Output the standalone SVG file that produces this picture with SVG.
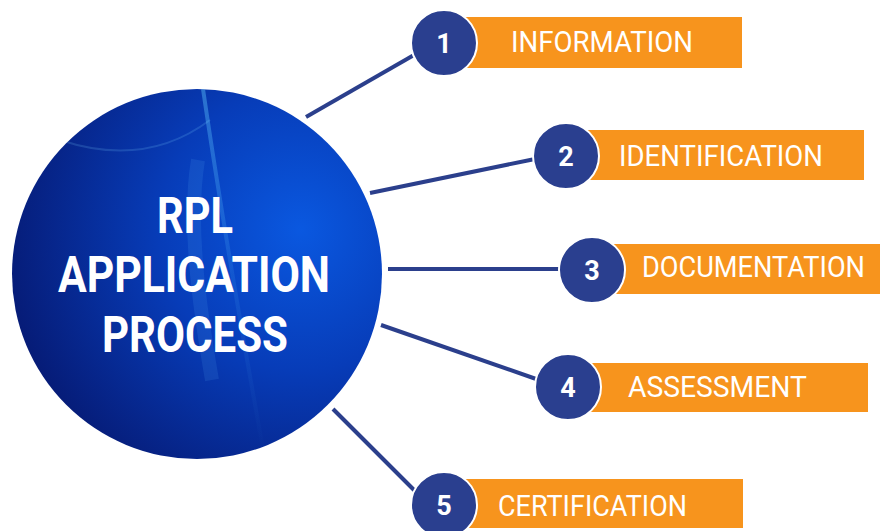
<svg xmlns="http://www.w3.org/2000/svg" width="880" height="531" viewBox="0 0 880 531">
<defs>
<radialGradient id="bg" cx="0.78" cy="0.38" r="0.85">
<stop offset="0" stop-color="#0a58e0"/>
<stop offset="0.45" stop-color="#073cb8"/>
<stop offset="1" stop-color="#061870"/>
</radialGradient>
<linearGradient id="wisp" x1="0" y1="0" x2="0" y2="1">
<stop offset="0" stop-color="#5fc8ff" stop-opacity="0.7"/>
<stop offset="0.5" stop-color="#5fc8ff" stop-opacity="0.2"/>
<stop offset="1" stop-color="#5fc8ff" stop-opacity="0"/>
</linearGradient>
<clipPath id="cc"><circle cx="197" cy="274" r="185"/></clipPath>
</defs>
<style>
.bar{fill:#f7941d}
.num{fill:#2a3f8f;stroke:#ffffff;stroke-width:2}
.numt{fill:#fff;font-family:Roboto,"Liberation Sans",sans-serif;font-weight:700;font-size:27px;text-anchor:middle}
.lab{fill:#fff;font-family:Roboto,"Liberation Sans",sans-serif;font-size:29px}
.ctr{fill:#fff;font-family:Roboto,"Liberation Sans",sans-serif;font-weight:700;font-size:50px;text-anchor:middle}
.con{stroke:#2b3f8c;stroke-width:4;fill:none}
</style>
<g id="connectors">
<line class="con" x1="306" y1="117" x2="414" y2="55"/>
<line class="con" x1="370" y1="193" x2="535" y2="159"/>
<line class="con" x1="388" y1="269" x2="562" y2="269"/>
<line class="con" x1="381" y1="325" x2="539" y2="380"/>
<line class="con" x1="333" y1="409" x2="416" y2="492"/>
</g>
<g id="center">
<circle cx="197" cy="274" r="185" fill="url(#bg)"/>
<g clip-path="url(#cc)">
<path d="M203 89 C212 150 225 240 265 460" stroke="url(#wisp)" stroke-width="4" fill="none" opacity="0.6"/>
<path d="M198 160 C188 220 198 300 212 380" stroke="#5fc0ff" stroke-opacity="0.12" stroke-width="14" fill="none"/>
<path d="M60 140 C120 160 170 150 210 120" stroke="#7fd0ff" stroke-opacity="0.18" stroke-width="2" fill="none"/>
</g>
<text class="ctr" x="195" y="233" textLength="76" lengthAdjust="spacingAndGlyphs">RPL</text>
<text class="ctr" x="194" y="292" textLength="272" lengthAdjust="spacingAndGlyphs">APPLICATION</text>
<text class="ctr" x="195" y="352" textLength="186" lengthAdjust="spacingAndGlyphs">PROCESS</text>
</g>
<g id="n1">
<rect class="bar" x="465" y="17" width="277" height="51"/>
<circle class="num" cx="444" cy="43" r="33"/>
<text class="numt" x="444" y="53">1</text>
<text class="lab" x="511" y="52" textLength="182" lengthAdjust="spacingAndGlyphs">INFORMATION</text>
</g>
<g id="n2">
<rect class="bar" x="585" y="130" width="279" height="50"/>
<circle class="num" cx="566" cy="156" r="33"/>
<text class="numt" x="566" y="166">2</text>
<text class="lab" x="619" y="166" textLength="204" lengthAdjust="spacingAndGlyphs">IDENTIFICATION</text>
</g>
<g id="n3">
<rect class="bar" x="610" y="244" width="270" height="50"/>
<circle class="num" cx="592" cy="270" r="33"/>
<text class="numt" x="592" y="280">3</text>
<text class="lab" x="642" y="277" textLength="223" lengthAdjust="spacingAndGlyphs">DOCUMENTATION</text>
</g>
<g id="n4">
<rect class="bar" x="585" y="363" width="283" height="49"/>
<circle class="num" cx="568" cy="387" r="33"/>
<text class="numt" x="568" y="397">4</text>
<text class="lab" x="628" y="397" textLength="179" lengthAdjust="spacingAndGlyphs">ASSESSMENT</text>
</g>
<g id="n5">
<rect class="bar" x="465" y="479" width="278" height="49"/>
<circle class="num" cx="444" cy="505" r="33"/>
<text class="numt" x="444" y="515">5</text>
<text class="lab" x="498" y="516" textLength="189" lengthAdjust="spacingAndGlyphs">CERTIFICATION</text>
</g>
</svg>
